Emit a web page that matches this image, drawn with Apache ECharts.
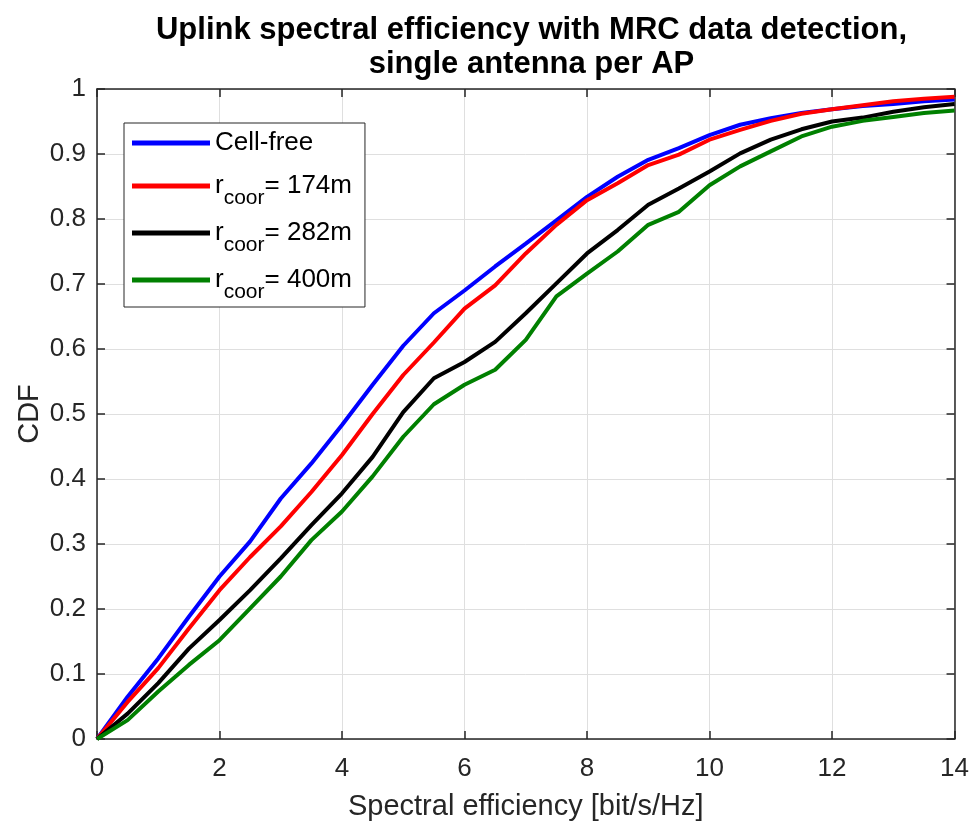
<!DOCTYPE html>
<html><head><meta charset="utf-8">
<script src="https://cdn.jsdelivr.net/npm/echarts@6/dist/echarts.min.js"></script>
<style>html,body{margin:0;padding:0;background:#fff}#c{width:972px;height:826px}</style>
</head><body><div id="c"></div><script>
const titleText = 'Uplink spectral efficiency with MRC data detection,\nsingle antenna per AP';
const xAxisName = 'Spectral efficiency [bit/s/Hz]';
const yAxisName = 'CDF';
const seriesNames = ['Cell-free', 'r_coor= 174m', 'r_coor= 282m', 'r_coor= 400m'];
const seriesColors = ['#0000ff', '#ff0000', '#000000', '#008000'];
const xValues = [0,0.5,1,1.5,2,2.5,3,3.5,4,4.5,5,5.5,6,6.5,7,7.5,8,8.5,9,9.5,10,10.5,11,11.5,12,12.5,13,13.5,14];
const cellFree = [0,0.065,0.124,0.188,0.250,0.304,0.370,0.424,0.483,0.545,0.605,0.655,0.690,0.727,0.762,0.798,0.834,0.865,0.891,0.909,0.929,0.945,0.955,0.963,0.969,0.974,0.977,0.981,0.984];
const rcoor174 = [0,0.057,0.109,0.170,0.229,0.280,0.327,0.380,0.437,0.500,0.560,0.610,0.662,0.698,0.747,0.791,0.829,0.855,0.883,0.899,0.922,0.937,0.951,0.962,0.969,0.975,0.981,0.985,0.988];
const rcoor282 = [0,0.039,0.086,0.139,0.183,0.229,0.278,0.329,0.378,0.434,0.503,0.555,0.580,0.611,0.655,0.701,0.747,0.783,0.822,0.847,0.873,0.901,0.922,0.938,0.950,0.956,0.965,0.972,0.977];
const rcoor400 = [0,0.029,0.073,0.114,0.152,0.201,0.250,0.306,0.350,0.404,0.465,0.515,0.545,0.568,0.614,0.681,0.716,0.750,0.791,0.811,0.852,0.881,0.904,0.927,0.942,0.951,0.957,0.963,0.967];
const seriesValues = [cellFree, rcoor174, rcoor282, rcoor400];

const FONT = '"Liberation Sans", Arial, Helvetica, sans-serif';
const AX = '#262626';
const chart = echarts.init(document.getElementById('c'), null, {renderer: 'canvas'});

const axisLine = {show: true, onZero: false, lineStyle: {color: AX, width: 1.5}};
const axisTick = {show: true, inside: true, length: 8, lineStyle: {color: AX, width: 1.5}};
const gridLine = {show: true, lineStyle: {color: '#dfdfdf', width: 1}};

chart.setOption({
  animation: false,
  textStyle: {fontFamily: FONT},
  title: {
    text: titleText, left: 526.5, top: 8, textAlign: 'center',
    textStyle: {fontSize: 31, fontWeight: 'bold', lineHeight: 34, color: '#000', fontFamily: FONT}
  },
  grid: {left: 97, right: 16, top: 89, bottom: 87, containLabel: false},
  xAxis: [
    {type: 'value', position: 'bottom', min: 0, max: 14, interval: 2,
     axisLine, axisTick, splitLine: gridLine,
     axisLabel: {fontSize: 26, color: AX, margin: 17, fontFamily: FONT},
     name: xAxisName, nameLocation: 'middle', nameGap: 53, nameMoveOverlap: false,
     nameTextStyle: {fontSize: 29, color: AX, fontFamily: FONT}},
    {type: 'value', position: 'top', min: 0, max: 14, interval: 2,
     axisLine, axisTick, splitLine: {show: false}, axisLabel: {show: false}}
  ],
  yAxis: [
    {type: 'value', position: 'left', min: 0, max: 1, interval: 0.1,
     axisLine, axisTick, splitLine: gridLine,
     axisLabel: {fontSize: 26, color: AX, margin: 11, fontFamily: FONT},
     name: yAxisName, nameLocation: 'middle', nameGap: 53, nameMoveOverlap: false,
     nameTextStyle: {fontSize: 29, color: AX, fontFamily: FONT}},
    {type: 'value', position: 'right', min: 0, max: 1, interval: 0.1,
     axisLine, axisTick, splitLine: {show: false}, axisLabel: {show: false}}
  ],
  legend: {
    left: 124, top: 123, orient: 'vertical', icon: 'rect',
    itemWidth: 78, itemHeight: 5, itemGap: 1,
    padding: [1, 13, 4, 8],
    borderColor: AX, borderWidth: 1, backgroundColor: '#fff',
    data: seriesNames,
    formatter: function (name) {
      if (name.indexOf('r_coor') === 0) {
        return '{main|r}{sub|coor}{main|' + name.slice(6) + '}';
      }
      return '{main|' + name + '}{gap| }';
    },
    textStyle: {
      color: '#000', fontFamily: FONT,
      rich: {
        main: {fontSize: 26, lineHeight: 24, color: '#000', fontFamily: FONT},
        sub: {fontSize: 21, lineHeight: 20, padding: [25, 0, 0, 0], color: '#000', fontFamily: FONT},
        gap: {fontSize: 21, lineHeight: 20, padding: [17, 0, 0, 0], color: '#000', fontFamily: FONT}
      }
    }
  },
  series: seriesNames.map(function (n, i) {
    return {
      name: n, type: 'line', xAxisIndex: 0, yAxisIndex: 0,
      showSymbol: false, symbol: 'none', color: seriesColors[i],
      lineStyle: {color: seriesColors[i], width: 4},
      data: xValues.map(function (x, j) { return [x, seriesValues[i][j]]; })
    };
  })
});
</script></body></html>
